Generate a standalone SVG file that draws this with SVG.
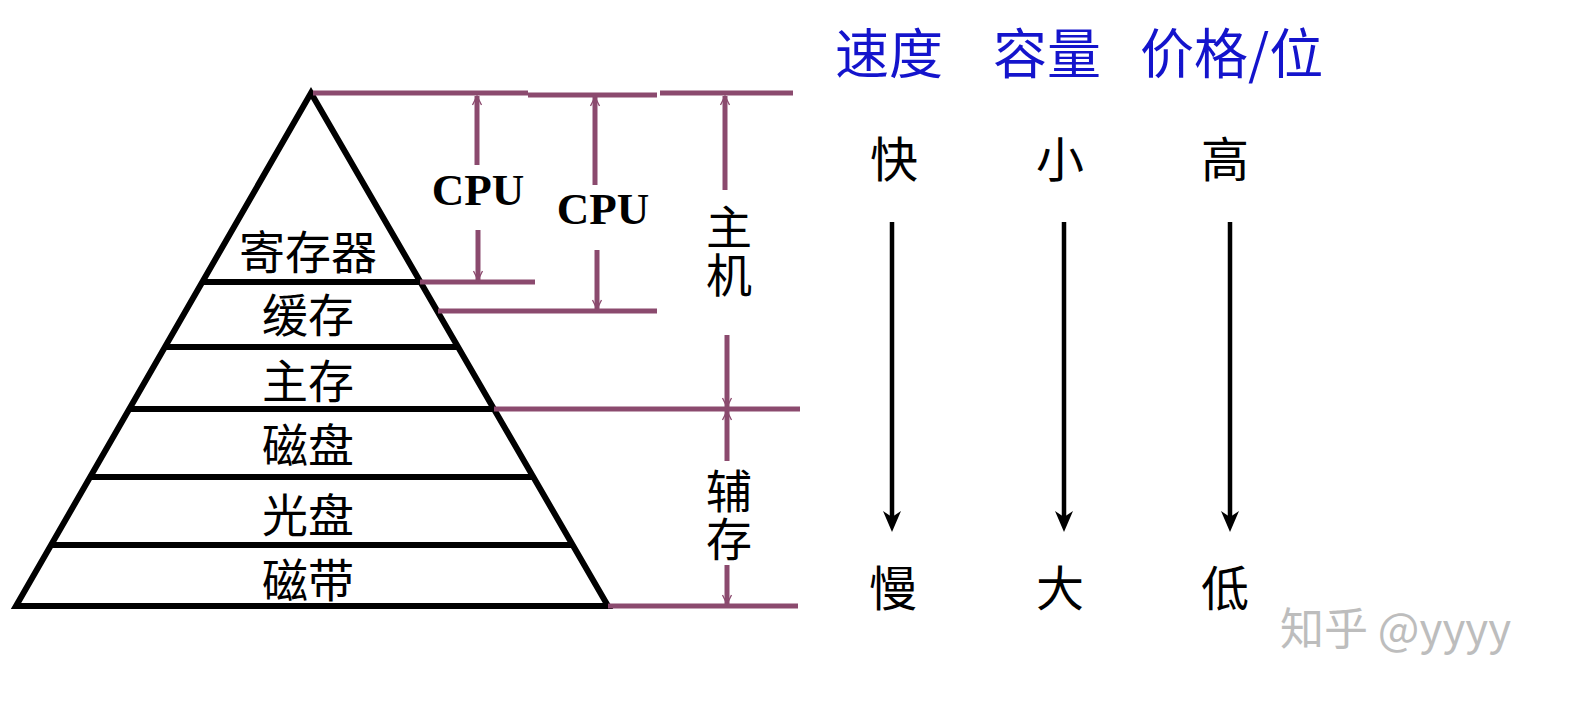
<svg xmlns="http://www.w3.org/2000/svg" width="1583" height="703" viewBox="0 0 1583 703">
<style>
.pyr{fill:none;stroke:#000;stroke-width:6;stroke-linejoin:miter}
.band{stroke:#000;stroke-width:6}
.pl{stroke:#8b4a6e;stroke-width:5;fill:none}
.bk{stroke:#000;stroke-width:4.5;fill:none}
.cn{font-family:"Noto Sans CJK SC","Noto Sans CJK JP",sans-serif;fill:#000}
.lab{font-size:46px;text-anchor:middle}
.cpu{font-family:"Liberation Serif","DejaVu Serif",serif;font-weight:bold;font-size:45px;text-anchor:middle;fill:#000}
.side{font-size:46px;writing-mode:vertical-rl;letter-spacing:2px}
.head{font-size:54px;fill:#1414cc}
.val{font-size:48px;text-anchor:middle}
.wm{font-family:"Noto Sans CJK SC",sans-serif;font-size:44px;fill:#bdbdbd}
</style>
<defs>
<marker id="pa" markerUnits="userSpaceOnUse" markerWidth="24" markerHeight="24" refX="0" refY="0" viewBox="-12 -12 24 24" orient="auto" overflow="visible">
<path d="M-9,-4.5 L0,0 L-9,4.5" fill="none" stroke="#8b4a6e" stroke-width="1.3"/>
</marker>
<marker id="ba" markerUnits="userSpaceOnUse" markerWidth="40" markerHeight="40" refX="0" refY="0" viewBox="-20 -20 40 40" orient="auto" overflow="visible">
<path d="M14,0 L-7,-9 L-1,0 L-7,9 Z" fill="#000"/>
</marker>
</defs>

<g id="pyramid">
<polygon class="pyr" points="311,93 16,606 608,606"/>
<line class="band" x1="202" y1="282" x2="420" y2="282"/>
<line class="band" x1="165" y1="347" x2="458" y2="347"/>
<line class="band" x1="129" y1="409" x2="494" y2="409"/>
<line class="band" x1="90" y1="477" x2="533" y2="477"/>
<line class="band" x1="51" y1="545" x2="573" y2="545"/>
</g>

<g id="node-register"><text class="cn lab" x="308" y="269">寄存器</text></g>
<g id="node-cache"><text class="cn lab" x="308" y="332">缓存</text></g>
<g id="node-main"><text class="cn lab" x="308" y="398">主存</text></g>
<g id="node-disk"><text class="cn lab" x="308" y="462">磁盘</text></g>
<g id="node-optical"><text class="cn lab" x="308" y="532">光盘</text></g>
<g id="node-tape"><text class="cn lab" x="308" y="597">磁带</text></g>

<g id="connectors">
<path class="pl" d="M313,93 H528 M528,95 H657 M660,93 H793"/>
<line class="pl" x1="420" y1="282" x2="535" y2="282"/>
<line class="pl" x1="438" y1="311" x2="657" y2="311"/>
<line class="pl" x1="494" y1="409" x2="800" y2="409"/>
<line class="pl" x1="608" y1="606" x2="798" y2="606"/>
<line class="pl" x1="477" y1="165" x2="477" y2="96" marker-end="url(#pa)"/>
<line class="pl" x1="478" y1="230" x2="478" y2="280" marker-end="url(#pa)"/>
<line class="pl" x1="595" y1="185" x2="595" y2="97" marker-end="url(#pa)"/>
<line class="pl" x1="597" y1="250" x2="597" y2="309" marker-end="url(#pa)"/>
<line class="pl" x1="725" y1="190" x2="725" y2="96" marker-end="url(#pa)"/>
<line class="pl" x1="727" y1="335" x2="727" y2="407" marker-end="url(#pa)"/>
<line class="pl" x1="727" y1="461" x2="727" y2="411" marker-end="url(#pa)"/>
<line class="pl" x1="727" y1="565" x2="727" y2="604" marker-end="url(#pa)"/>
<line class="bk" x1="892" y1="222" x2="892" y2="518" marker-end="url(#ba)"/>
<line class="bk" x1="1064" y1="222" x2="1064" y2="518" marker-end="url(#ba)"/>
<line class="bk" x1="1230" y1="222" x2="1230" y2="518" marker-end="url(#ba)"/>
</g>

<g id="label-cpu1"><text class="cpu" x="478" y="205">CPU</text></g>
<g id="label-cpu2"><text class="cpu" x="603" y="224">CPU</text></g>
<g id="label-host"><text class="cn side" x="729" y="204">主机</text></g>
<g id="label-aux"><text class="cn side" x="729" y="468">辅存</text></g>

<g id="header">
<text class="cn head" x="835" y="74">速度</text>
<text class="cn head" x="993" y="74">容量</text>
<text class="cn head" x="1140" y="74">价格/位</text>
</g>

<g id="col-speed"><text class="cn val" x="894" y="177">快</text><text class="cn val" x="893" y="606">慢</text></g>
<g id="col-capacity"><text class="cn val" x="1060" y="177">小</text><text class="cn val" x="1060" y="606">大</text></g>
<g id="col-price"><text class="cn val" x="1225" y="177">高</text><text class="cn val" x="1225" y="606">低</text></g>

<text class="wm" x="1280" y="645">知乎 @yyyy</text>
</svg>
